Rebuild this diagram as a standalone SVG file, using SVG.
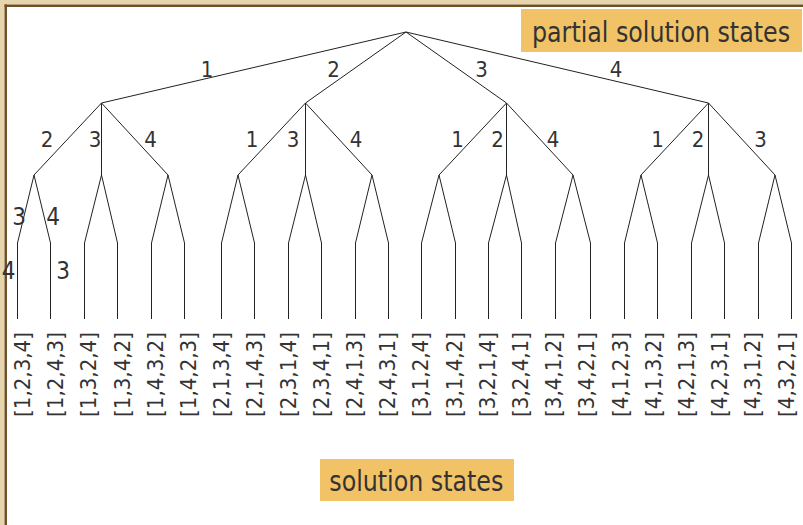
<svg xmlns="http://www.w3.org/2000/svg" width="803" height="525" viewBox="0 0 803 525">
<style>
.e{fill:none;stroke:#222;stroke-width:1}
.t{font-family:'DejaVu Sans Condensed','DejaVu Sans',sans-serif;fill:#333}
.el{font-size:22px;text-anchor:middle}
.el2{font-size:24px;text-anchor:middle}
.lf{font-size:22px}
.big{font-size:28px}
.box{fill:#f2c266}
</style>
<rect x="0" y="0" width="803" height="525" fill="#fff"/>
<rect x="0" y="0" width="803" height="4.5" fill="#e7d6ad"/>
<rect x="0" y="0" width="4.5" height="525" fill="#e7d6ad"/>
<rect x="4.5" y="4.5" width="798.5" height="2.5" fill="#6f5127"/>
<rect x="4.5" y="4.5" width="2.5" height="520.5" fill="#6f5127"/>

<g id="connectors">
<path class="e" d="M406 32L101.5 103M406 32L305.5 103M406 32L506.5 103M406 32L708.5 103"/>
<path class="e" d="M101.5 103L34 175M101.5 103L101.5 175M101.5 103L168 175"/>
<path class="e" d="M305.5 103L238 175M305.5 103L305.5 175M305.5 103L372 175"/>
<path class="e" d="M506.5 103L439 175M506.5 103L506.5 175M506.5 103L573 175"/>
<path class="e" d="M708.5 103L641 175M708.5 103L708.5 175M708.5 103L775 175"/>
<path class="e" d="M17.5 319V243L34 175L50.5 243V319"/>
<path class="e" d="M84.5 319V243L101.5 175L117.5 243V319"/>
<path class="e" d="M151.5 319V243L168 175L184.5 243V319"/>
<path class="e" d="M221.5 319V243L238 175L254.5 243V319"/>
<path class="e" d="M288.5 319V243L305.5 175L321.5 243V319"/>
<path class="e" d="M355.5 319V243L372 175L388.5 243V319"/>
<path class="e" d="M421.5 319V243L439 175L455.5 243V319"/>
<path class="e" d="M488.5 319V243L506.5 175L521.5 243V319"/>
<path class="e" d="M555.5 319V243L573 175L590.5 243V319"/>
<path class="e" d="M624.5 319V243L641 175L657.5 243V319"/>
<path class="e" d="M691.5 319V243L708.5 175L724.5 243V319"/>
<path class="e" d="M758.5 319V243L775 175L791.5 243V319"/>
</g>

<g id="edge-labels" class="t">
<text class="el" x="207" y="77">1</text>
<text class="el" x="333.5" y="77">2</text>
<text class="el" x="481.5" y="77">3</text>
<text class="el" x="616" y="77">4</text>
<text class="el" x="47" y="147">2</text>
<text class="el" x="95" y="147">3</text>
<text class="el" x="150.5" y="147">4</text>
<text class="el" x="252" y="147">1</text>
<text class="el" x="293" y="147">3</text>
<text class="el" x="356" y="147">4</text>
<text class="el" x="457.5" y="147">1</text>
<text class="el" x="497.5" y="147">2</text>
<text class="el" x="553" y="147">4</text>
<text class="el" x="657.5" y="147">1</text>
<text class="el" x="698" y="147">2</text>
<text class="el" x="760.5" y="147">3</text>
<text class="el2" x="19" y="225">3</text>
<text class="el2" x="53" y="225">4</text>
<text class="el2" x="8.5" y="279">4</text>
<text class="el2" x="63" y="279">3</text>
</g>

<g id="leaves" class="t lf">
<g id="leaf-1234"><text transform="translate(30,417) rotate(-90)" textLength="85" lengthAdjust="spacingAndGlyphs">[1,2,3,4]</text></g>
<g id="leaf-1243"><text transform="translate(63.2,417) rotate(-90)" textLength="85" lengthAdjust="spacingAndGlyphs">[1,2,4,3]</text></g>
<g id="leaf-1324"><text transform="translate(96.4,417) rotate(-90)" textLength="85" lengthAdjust="spacingAndGlyphs">[1,3,2,4]</text></g>
<g id="leaf-1342"><text transform="translate(129.6,417) rotate(-90)" textLength="85" lengthAdjust="spacingAndGlyphs">[1,3,4,2]</text></g>
<g id="leaf-1423"><text transform="translate(162.8,417) rotate(-90)" textLength="85" lengthAdjust="spacingAndGlyphs">[1,4,3,2]</text></g>
<g id="leaf-1432"><text transform="translate(196,417) rotate(-90)" textLength="85" lengthAdjust="spacingAndGlyphs">[1,4,2,3]</text></g>
<g id="leaf-2134"><text transform="translate(229.2,417) rotate(-90)" textLength="85" lengthAdjust="spacingAndGlyphs">[2,1,3,4]</text></g>
<g id="leaf-2143"><text transform="translate(262.4,417) rotate(-90)" textLength="85" lengthAdjust="spacingAndGlyphs">[2,1,4,3]</text></g>
<g id="leaf-2314"><text transform="translate(295.6,417) rotate(-90)" textLength="85" lengthAdjust="spacingAndGlyphs">[2,3,1,4]</text></g>
<g id="leaf-2341"><text transform="translate(328.8,417) rotate(-90)" textLength="85" lengthAdjust="spacingAndGlyphs">[2,3,4,1]</text></g>
<g id="leaf-2413"><text transform="translate(362,417) rotate(-90)" textLength="85" lengthAdjust="spacingAndGlyphs">[2,4,1,3]</text></g>
<g id="leaf-2431"><text transform="translate(395.2,417) rotate(-90)" textLength="85" lengthAdjust="spacingAndGlyphs">[2,4,3,1]</text></g>
<g id="leaf-3124"><text transform="translate(428.4,417) rotate(-90)" textLength="85" lengthAdjust="spacingAndGlyphs">[3,1,2,4]</text></g>
<g id="leaf-3142"><text transform="translate(461.6,417) rotate(-90)" textLength="85" lengthAdjust="spacingAndGlyphs">[3,1,4,2]</text></g>
<g id="leaf-3214"><text transform="translate(494.8,417) rotate(-90)" textLength="85" lengthAdjust="spacingAndGlyphs">[3,2,1,4]</text></g>
<g id="leaf-3241"><text transform="translate(528,417) rotate(-90)" textLength="85" lengthAdjust="spacingAndGlyphs">[3,2,4,1]</text></g>
<g id="leaf-3412"><text transform="translate(561.2,417) rotate(-90)" textLength="85" lengthAdjust="spacingAndGlyphs">[3,4,1,2]</text></g>
<g id="leaf-3421"><text transform="translate(594.4,417) rotate(-90)" textLength="85" lengthAdjust="spacingAndGlyphs">[3,4,2,1]</text></g>
<g id="leaf-4123"><text transform="translate(627.6,417) rotate(-90)" textLength="85" lengthAdjust="spacingAndGlyphs">[4,1,2,3]</text></g>
<g id="leaf-4132"><text transform="translate(660.8,417) rotate(-90)" textLength="85" lengthAdjust="spacingAndGlyphs">[4,1,3,2]</text></g>
<g id="leaf-4213"><text transform="translate(694,417) rotate(-90)" textLength="85" lengthAdjust="spacingAndGlyphs">[4,2,1,3]</text></g>
<g id="leaf-4231"><text transform="translate(727.2,417) rotate(-90)" textLength="85" lengthAdjust="spacingAndGlyphs">[4,2,3,1]</text></g>
<g id="leaf-4312"><text transform="translate(760.4,417) rotate(-90)" textLength="85" lengthAdjust="spacingAndGlyphs">[4,3,1,2]</text></g>
<g id="leaf-4321"><text transform="translate(793.6,417) rotate(-90)" textLength="85" lengthAdjust="spacingAndGlyphs">[4,3,2,1]</text></g>
</g>

<g id="partial-solution-states">
<rect class="box" x="521" y="9" width="281" height="43"/>
<text class="t big" x="532" y="41.7" textLength="258" lengthAdjust="spacingAndGlyphs">partial solution states</text>
</g>
<g id="solution-states">
<rect class="box" x="320" y="459" width="194" height="42"/>
<text class="t big" x="329.3" y="491" textLength="174" lengthAdjust="spacingAndGlyphs">solution states</text>
</g>
</svg>
